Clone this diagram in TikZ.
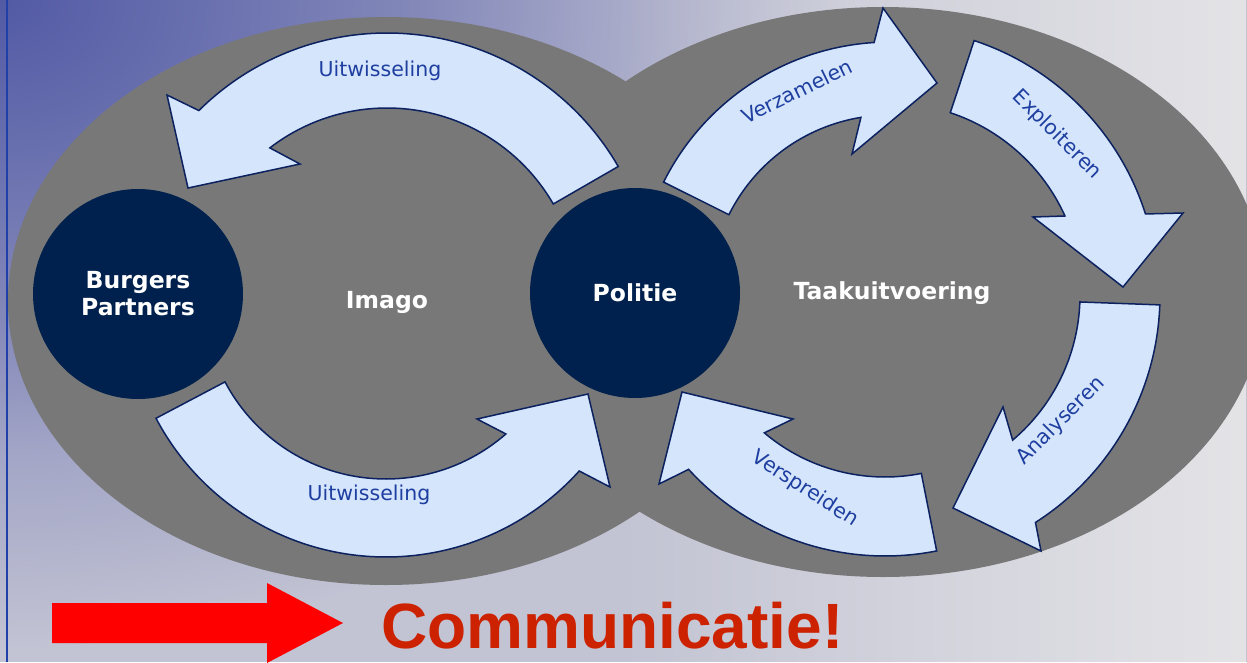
\documentclass[tikz,border=0pt]{standalone}
\usepackage{fontspec}
\setmainfont{DejaVu Sans}
\newfontfamily\arialfont{Liberation Sans}
\usepackage{tikz}
\usetikzlibrary{positioning}
\usetikzlibrary{calc}
\usetikzlibrary{fadings}
\definecolor{zonegray}{HTML}{787878}
\definecolor{hubnavy}{HTML}{00214D}
\definecolor{arwfill}{HTML}{D5E5FC}
\definecolor{arwline}{HTML}{0B2160}
\definecolor{arwtext}{HTML}{1E3FA0}
\definecolor{bgdark}{HTML}{525AA5}
\definecolor{bgbase}{HTML}{C2C3D3}
\definecolor{bglight}{HTML}{E4E4E7}
\definecolor{edgeblue}{HTML}{1E40A8}
\definecolor{commred}{HTML}{CC2200}
\colorlet{bgstepA}{bgdark!70!bgbase}
\colorlet{bgstepB}{bgdark!55!bgbase}
\colorlet{bgstepC}{bgdark!28!bgbase}
\pgfdeclareradialshading{cornerglow}{\pgfpoint{0bp}{0bp}}{color(0bp)=(bgdark); color(8.5bp)=(bgstepA); color(12.5bp)=(bgstepB); color(17.5bp)=(bgstepC); color(25bp)=(bgbase); color(50bp)=(bgbase)}
\tikzfading[name=fadetoright, left color=transparent!100, right color=transparent!0]
\tikzset{
    zone/.style = {fill=zonegray},
    hub/.style = {circle,fill=hubnavy,minimum size=210pt,inner sep=0pt,
        text=white,align=center,font=\bfseries\fontsize{23.5}{27}\selectfont},
    zonelabel/.style = {text=white,font=\bfseries\fontsize{23.5}{27}\selectfont},
    arw/.style = {draw=arwline,fill=arwfill,line width=1.5pt,line join=miter},
    arwlabel/.style = {text=arwtext,inner sep=0pt,font=\fontsize{20.5}{24}\selectfont},
    bigarrow/.style = {fill=red}}

\begin{document}
\begin{tikzpicture}[x=1pt,y=1pt]
        \useasboundingbox (0,0) rectangle (1247,-662);
        % background
        \begin{scope}
            \clip (0,0) rectangle (1247,-662);
            \fill[bgbase] (0,0) rectangle (1247,-662);
            \shade[shading=cornerglow] (0,0) ellipse[x radius=850,y radius=650];
            \fill[bglight,path fading=fadetoright] (600,0) rectangle (1247,-662);
        \end{scope}
        \draw[edgeblue,line width=1.5pt] (7,0) -- (7,-662);
        % two zones
        \fill[zone] (386,-301) ellipse[x radius=378,y radius=284];
        \fill[zone] (883,-292) ellipse[x radius=382,y radius=285];
        % arc centres
        \coordinate (imc) at (387,-300);
        \coordinate (imb) at (386,-297);
        \coordinate (tkc) at (890,-295);
        \coordinate (tkv) at (885,-290);
        % left loop
        \draw[arw] ($(imc)+(30:267)$) arc[start angle=30,end angle=134.8,radius=267]
            -- (167,-95) -- (188,-188) -- (300,-164)
            -- ($(imc)+(127.6:192)$) arc[start angle=127.6,end angle=30,radius=192] -- cycle;
        \draw[arw] ($(imb)+(207.8:260)$) arc[start angle=207.8,end angle=318,radius=260]
            -- (610,-487) -- (588,-394) -- (477,-419)
            -- ($(imb)+(311.2:182)$) arc[start angle=311.2,end angle=207.8,radius=182] -- cycle;
        % right loop
        \draw[arw] ($(tkc)+(153.5:253)$) arc[start angle=153.5,end angle=93.6,radius=253]
            -- (883,-8) -- (937,-83) -- (852,-154)
            -- ($(tkc)+(99.3:180)$) arc[start angle=99.3,end angle=153.5,radius=180] -- cycle;
        \draw[arw] ($(tkc)+(71.7:268)$) arc[start angle=71.7,end angle=17.6,radius=268]
            -- (1183,-213) -- (1123,-287) -- (1033,-217)
            -- ($(tkc)+(24.3:192)$) arc[start angle=24.3,end angle=71.7,radius=192] -- cycle;
        \draw[arw] ($(tkc)+(-2.1:270)$) arc[start angle=-2.1,end angle=-57.4,radius=270]
            -- (1041,-551) -- (953,-508) -- (1003,-407)
            -- ($(tkc)+(-49.8:190)$) arc[start angle=-49.8,end angle=-2.1,radius=190] -- cycle;
        \draw[arw] ($(tkv)+(-78.8:266)$) arc[start angle=-78.8,end angle=-137.6,radius=266]
            -- (659,-484) -- (682,-392) -- (793,-419)
            -- ($(tkv)+(-130.2:187)$) arc[start angle=-130.2,end angle=-78.8,radius=187] -- cycle;
        % arrow labels
        \node[arwlabel] (uitTop) at (380,-71) {Uitwisseling};
        \node[arwlabel] (uitBot) at (369,-495) {Uitwisseling};
        \node[arwlabel,rotate=26] (verz) at (797,-91) {Verzamelen};
        \node[arwlabel,rotate=-45] (expl) at (1057,-135) {Exploiteren};
        \node[arwlabel,rotate=45] (anal) at (1061,-421) {Analyseren};
        \node[arwlabel,rotate=-33] (versp) at (805,-489) {Verspreiden};
        % hubs and zone names
        \node[hub] (burgers) at (138,-294) {Burgers\\Partners};
        \node[hub] (politie) at (635,-293) {Politie};
        \node[zonelabel] (imago) at (387,-302) {Imago};
        \node[zonelabel] (taak) at (892,-293) {Taakuitvoering};
        % bottom line
        \fill[bigarrow] (52,-603) -- (267,-603) -- (267,-583) -- (343,-623)
            -- (267,-663) -- (267,-643) -- (52,-643) -- cycle;
        \node[anchor=base west,inner sep=0pt,text=commred,
            font=\arialfont\bfseries\fontsize{64}{70}\selectfont] (comm) at (381,-648) {Communicatie!};
\end{tikzpicture}
\end{document}
